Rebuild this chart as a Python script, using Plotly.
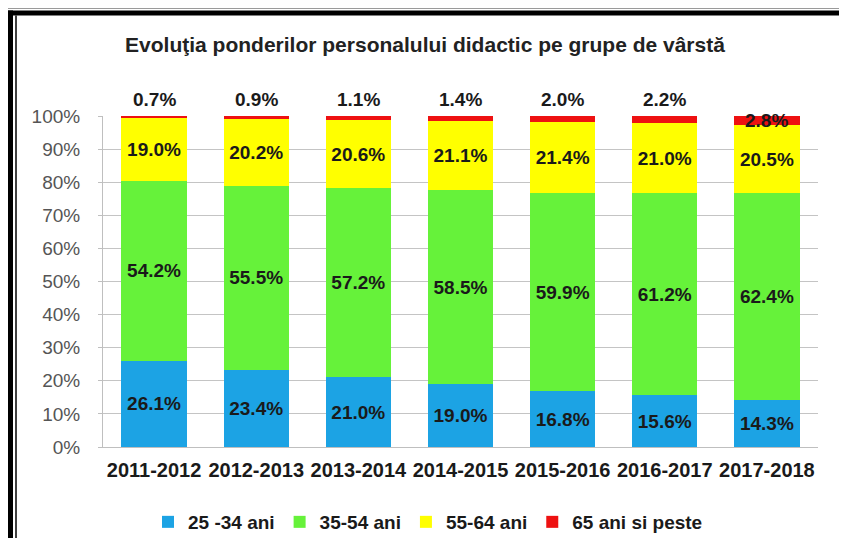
import plotly.graph_objects as go

categories = ["2011-2012", "2012-2013", "2013-2014", "2014-2015", "2015-2016", "2016-2017", "2017-2018"]
age_25_34 = [26.1, 23.4, 21.0, 19.0, 16.8, 15.6, 14.3]
age_35_54 = [54.2, 55.5, 57.2, 58.5, 59.9, 61.2, 62.4]
age_55_64 = [19.0, 20.2, 20.6, 21.1, 21.4, 21.0, 20.5]
age_65_plus = [0.7, 0.9, 1.1, 1.4, 2.0, 2.2, 2.8]
series_names = ["25 -34 ani", "35-54 ani", "55-64 ani", "65 ani si peste"]
colors = ["#1ca3e4", "#66f23a", "#ffff00", "#ee1111"]
title_text = "Evoluţia ponderilor personalului didactic pe grupe de vârstă"
# style: whether the 65+ label sits inside its segment (else above the bar)
red_label_inside = [False, False, False, False, False, False, True]

# page body has an 8px margin: work in window coords, convert to figure coords
OFF = 8
W, H = 847 - 2 * OFF, 546 - 2 * OFF
L, R, T, B = 103 - OFF, 818 - OFF, 116 - OFF, 447 - OFF


def px(xw):
    return (xw - OFF - L) / (R - L)


def py(yw):
    return (B - (yw - OFF)) / (B - T)


FONT = "Liberation Sans, Arial, sans-serif"
TXT = "#1a1a1a"

fig = go.Figure()
all_series = [age_25_34, age_35_54, age_55_64, age_65_plus]
for i, (name, vals, col) in enumerate(zip(series_names, all_series, colors)):
    fig.add_trace(go.Bar(
        x=categories, y=vals, name=name,
        marker=dict(color=col, line=dict(width=0)),
        texttemplate="%{y:.1f}%" if i < 3 else None,
        textposition="inside" if i < 3 else "none",
        insidetextanchor="middle", constraintext="none",
        textfont=dict(family=FONT, size=19, color=TXT, weight="bold"),
    ))

annotations = []
for cat, a, b, c, d, inside in zip(categories, age_25_34, age_35_54, age_55_64, age_65_plus, red_label_inside):
    top = min(round(a + b + c + d, 6), 100)
    annotations.append(dict(
        x=cat, y=(top - d / 2) if inside else top, xref="x", yref="y",
        text="<b>%.1f%%</b>" % d, showarrow=False,
        yanchor="middle" if inside else "bottom", yshift=0 if inside else 4,
        font=dict(family=FONT, size=19, color=TXT),
    ))


def line(x0, y0, x1, y1, color, width):
    return dict(type="line", xref="paper", yref="paper",
                x0=px(x0), x1=px(x1), y0=py(y0), y1=py(y1),
                line=dict(color=color, width=width), layer="above")


shapes = [
    line(0, 8.5, 847, 8.5, "#9a9a9a", 1),      # top outer thin gray
    line(7, 13, 847, 13, "black", 5),          # top thick black
    line(10, 10.5, 10, 560, "black", 6),       # left thick black
    line(16, 15.5, 16, 560, "black", 1.5),     # left inner thin black
]

fig.update_layout(
    width=W, height=H,
    margin=dict(l=L, r=W - R, t=T, b=H - B, autoexpand=False),
    barmode="stack", bargap=0.36,
    paper_bgcolor="white", plot_bgcolor="white",
    font=dict(family=FONT, color=TXT),
    title=dict(text="<b>" + title_text + "</b>", x=(425 - OFF) / W, xref="container", xanchor="center",
               y=1 - (45 - OFF) / H, yanchor="middle", yref="container",
               font=dict(family=FONT, size=21, color="#222222")),
    xaxis=dict(showgrid=False, showline=True, linecolor="#bfbfbf", linewidth=1,
               ticks="", ticklabelstandoff=5,
               tickfont=dict(family=FONT, size=20, color=TXT, weight="bold")),
    yaxis=dict(range=[0, 100], dtick=10, ticksuffix="%", showgrid=True,
               gridcolor="#c4c4c4", gridwidth=1, showline=True, linecolor="#bfbfbf",
               ticks="outside", ticklen=4, tickcolor="#bfbfbf", ticklabelstandoff=14,
               tickfont=dict(family=FONT, size=19, color="#555555"), zeroline=False),
    legend=dict(orientation="h", x=(428 - OFF) / W, xanchor="center", xref="container",
                y=py(522), yanchor="middle", traceorder="normal",
                font=dict(family=FONT, size=19, color=TXT, weight="bold"),
                itemwidth=30),
    annotations=annotations,
    shapes=shapes,
    showlegend=True,
)

fig.write_html("out.html")
